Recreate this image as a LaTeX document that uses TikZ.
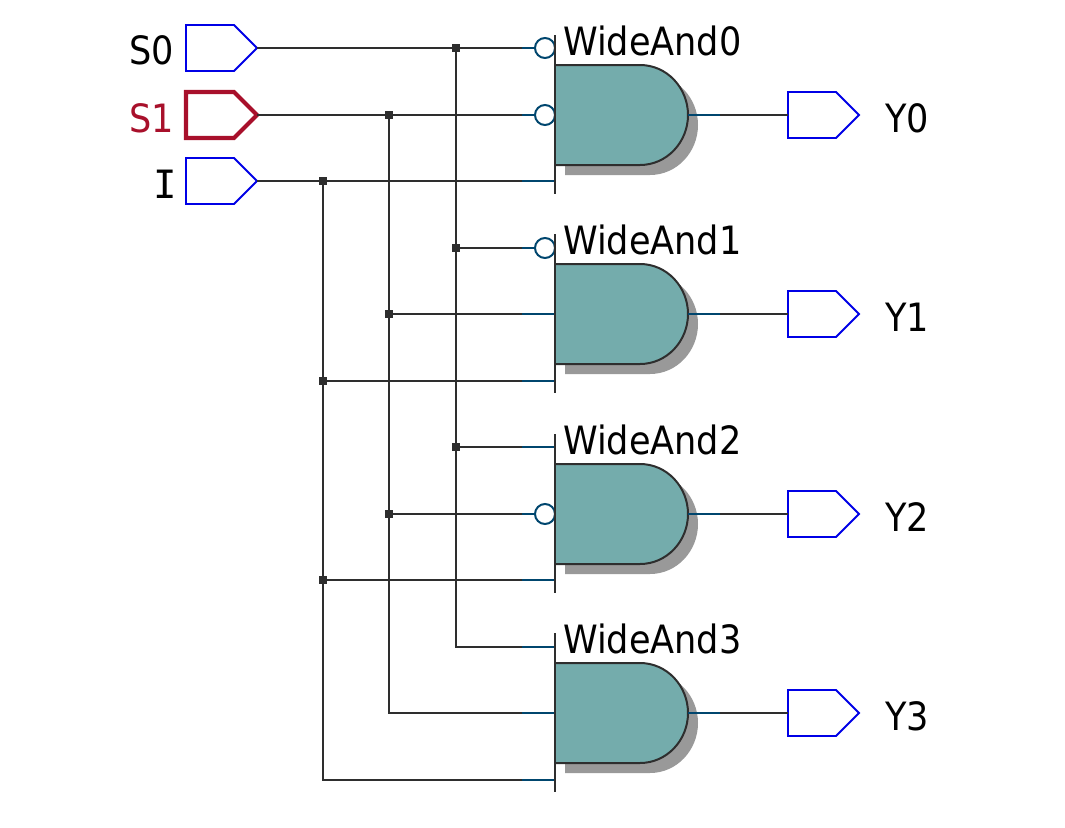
\documentclass[tikz,border=0pt]{standalone}
\usepackage{fontspec}
\setmainfont{DejaVu Sans Condensed}
\newfontfamily\serifI{DejaVu Sans Mono}
\usetikzlibrary{shapes.symbols}
\definecolor{wirec}{HTML}{2E2E2E}
\definecolor{stub}{HTML}{00466E}
\definecolor{body}{HTML}{74ACAC}
\definecolor{shadowc}{HTML}{999999}
\definecolor{port}{HTML}{0000E6}
\definecolor{act}{HTML}{A8102B}
\tikzset{
  wire/.style={wirec,line width=2pt},
  stubw/.style={stub,line width=2pt},
  portbox/.style={shape=signal,signal to=east,signal from=nowhere,signal pointer angle=90,
    draw=port,line width=1.8pt,minimum width=71pt,minimum height=46pt,inner sep=0pt,outer sep=0pt},
  dot/.style={fill=wirec,minimum size=8pt,inner sep=0pt,outer sep=0pt},
  bubble/.style={circle,draw=stub,fill=white,line width=2pt,minimum size=20pt,inner sep=0pt},
  lbl/.style={font=\fontsize{39}{39}\selectfont,inner sep=0pt}
}
\begin{document}
\begin{tikzpicture}[x=1pt,y=-1pt]
    \useasboundingbox (0,0) rectangle (1065,827);
    % ports on the left
    \node[portbox,anchor=west] (S0) at (186,48) {};
    \node[portbox,anchor=west,draw=act,line width=4.2pt] (S1) at (186,115) {};
    \node[portbox,anchor=west] (I) at (186,181) {};
    \node[lbl,anchor=base east] at (174.5,64) {S0};
    \node[lbl,anchor=base east,text=act] at (174,132) {S1};
    \node[lbl,anchor=base east] at (177,198) {\serifI I};
    % gates
    \foreach \g/\o/\p in {0/0/0,1/199/200,2/399/399,3/598/599}{
      \coordinate (a\g) at (522,48+\p);
      \coordinate (b\g) at (522,115+\o);
      \coordinate (c\g) at (522,181+\p);
      \coordinate (q\g) at (720,115+\o);
      \fill[shadowc] (565,75+\o) -- (650,75+\o) .. controls (677,75+\o) and (698,98+\o) .. (698,125+\o)
        .. controls (698,152+\o) and (677,175+\o) .. (650,175+\o) -- (565,175+\o) -- cycle;
      \draw[wirec,fill=body,line width=2pt] (555,65+\o) -- (640,65+\o) .. controls (667,65+\o) and (688,88+\o) .. (688,115+\o)
        .. controls (688,142+\o) and (667,165+\o) .. (640,165+\o) -- (555,165+\o);
      \draw[stubw] (a\g) -- ++(33,0);
      \draw[stubw] (b\g) -- ++(33,0);
      \draw[stubw] (c\g) -- ++(33,0);
      \draw[stubw] (688,115+\o) -- (q\g);
      \node[lbl,anchor=base west] (g\g) at (563,55+\o) {WideAnd\g};
      \node[portbox,anchor=west] (Y\g) at (788,115+\o) {};
      \node[lbl,anchor=base west] at (885,132+\o) {Y\g};
      \draw[wire] (q\g) -- (Y\g.west);
    }
    % inverted pins
    \foreach \n/\y in {n0/48,n1/115,n2/248,n3/514}{
      \node[bubble] (\n) at (545,\y) {};
    }
    \foreach \o in {0,199,399,598}{
      \draw[wirec,line width=2pt] (555,35+\o) -- (555,194+\o);
    }
    % wiring
    \draw[wire] (S0.east) -- (a0);
    \draw[wire] (S1.east) -- (b0);
    \draw[wire] (I.east) -- (c0);
    \foreach \n/\x/\p in {s/456/a,t/389/b,u/323/c}{
      \node[dot] (\n0) at (\x,0 |- \p0) {};
      \node[dot] (\n1) at (\x,0 |- \p1) {};
      \node[dot] (\n2) at (\x,0 |- \p2) {};
      \coordinate (\n3) at (\x,0 |- \p3);
      \draw[wire] (\n0.center) -- (\n3) -- (\p3);
      \draw[wire] (\n1.center) -- (\p1);
      \draw[wire] (\n2.center) -- (\p2);
    }
  \end{tikzpicture}
\end{document}
